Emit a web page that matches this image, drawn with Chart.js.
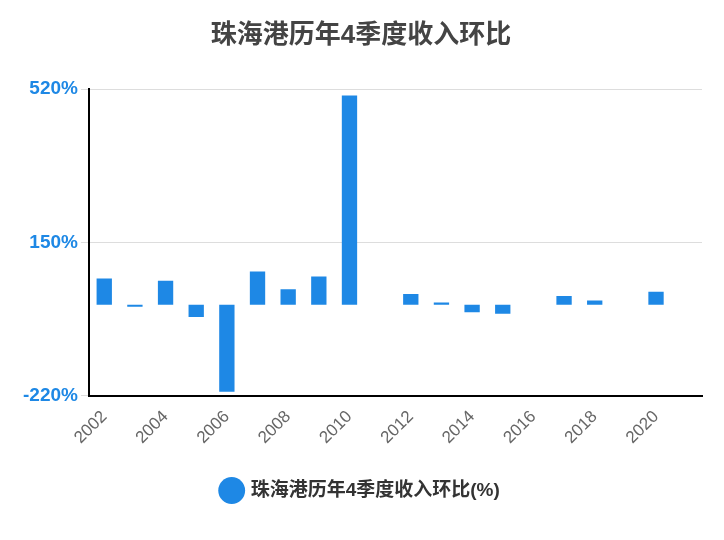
<!DOCTYPE html>
<html><head><meta charset="utf-8">
<script src="https://cdn.jsdelivr.net/npm/chart.js@4/dist/chart.umd.min.js"></script>
<style>html,body{margin:0;background:#fff}#w{width:724px;height:540px}</style>
</head><body><div id="w"><canvas id="c"></canvas></div>
<script>
const categories = ["2002","2003","2004","2005","2006","2007","2008","2009","2010","2011","2012","2013","2014","2015","2016","2017","2018","2019","2020","2021"];
const values = [63,-5,58,-30,-210,80,37,68,505,null,26,5,-18,-22,null,21,10,null,31,null];
const yTicks = [-220,150,520];
const seriesName = "珠海港历年4季度收入环比(%)";
const titleText = "珠海港历年4季度收入环比";
const F = "'Liberation Sans','Noto Sans CJK SC',sans-serif";
new Chart(document.getElementById('c'), {
  type:'bar',
  data:{labels:categories,datasets:[{label:seriesName,data:values,backgroundColor:'#1e88e5',barPercentage:0.5,categoryPercentage:1}]},
  options:{responsive:true,maintainAspectRatio:false,animation:false,
    layout:{padding:{left:20,right:22,top:8,bottom:30}},
    plugins:{
      title:{display:true,text:titleText,color:'#444',font:{family:F,size:26,weight:'bold'},padding:{top:12,bottom:38}},
      legend:{position:'bottom',labels:{usePointStyle:true,pointStyle:'circle',boxWidth:22,boxHeight:22,color:'#333',font:{family:F,size:19,weight:'bold'},padding:30}}
    },
    scales:{
      x:{grid:{display:false,drawTicks:true},border:{color:'#000',width:2},
        ticks:{color:'#666',font:{family:F,size:17},maxRotation:45,minRotation:45,autoSkip:false,
          callback:function(v,i){return i%2===0?categories[i]:'';}}},
      y:{min:-220,max:520,afterBuildTicks:a=>{a.ticks=yTicks.map(v=>({value:v}));},
        grid:{color:'#ddd'},border:{color:'#000',width:2},
        ticks:{color:'#1e88e5',font:{family:F,size:19,weight:'bold'},callback:v=>v+'%'}}
    }
  }
});
</script></body></html>
